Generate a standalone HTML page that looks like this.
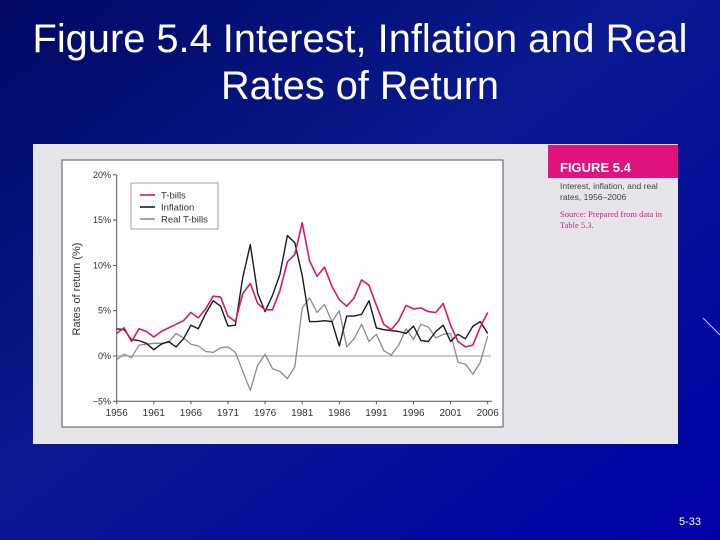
<!DOCTYPE html>
<html><head><meta charset="utf-8"><style>
html,body{margin:0;padding:0;width:720px;height:540px;overflow:hidden;}
svg{display:block;font-family:"Liberation Sans",sans-serif;}
</style></head><body>
<svg id="s" width="720" height="540" viewBox="0 0 720 540">
<defs>
<linearGradient id="bg" x1="0" y1="0" x2="1" y2="1">
<stop offset="0" stop-color="#000862"/><stop offset="0.45" stop-color="#0a1a90"/><stop offset="1" stop-color="#0000a8"/>
</linearGradient>
</defs>
<rect width="720" height="540" fill="url(#bg)"/>
<line x1="703" y1="318" x2="720" y2="335" stroke="#c8c8ff" stroke-width="1"/>
<text x="360" y="52" fill="#fff" font-size="40" text-anchor="middle" textLength="655" lengthAdjust="spacingAndGlyphs">Figure 5.4 Interest, Inflation and Real</text>
<text x="360" y="99" fill="#fff" font-size="40" text-anchor="middle" textLength="278" lengthAdjust="spacingAndGlyphs">Rates of Return</text>
<rect x="33" y="144" width="645" height="300" fill="#e6e6ea"/>
<rect x="548" y="145" width="130" height="33" fill="#e0127e"/>
<text x="560" y="172" fill="#fff" font-size="13" font-weight="bold">FIGURE 5.4</text>
<text x="560" y="189" fill="#444" font-size="8.5">Interest, inflation, and real</text>
<text x="560" y="200" fill="#444" font-size="8.5">rates, 1956–2006</text>
<text x="560" y="217" fill="#d02080" font-size="8.5" font-family="Liberation Serif,serif">Source: Prepared from data in</text>
<text x="560" y="228" fill="#d02080" font-size="8.5" font-family="Liberation Serif,serif">Table 5.3.</text>
<rect x="62" y="160" width="441" height="267" fill="#fff" stroke="#555" stroke-width="1"/>
<g id="chart"></g>
<text x="690" y="525" fill="#fff" font-size="11" text-anchor="middle">5-33</text>
</svg>
<script>
const years=[];for(let y=1956;y<=2006;y++)years.push(y);
const tbills=[2.5,3.1,1.6,3.0,2.7,2.1,2.7,3.1,3.5,3.9,4.8,4.2,5.2,6.6,6.5,4.4,3.8,6.9,8.0,5.8,5.1,5.1,7.2,10.4,11.2,14.7,10.5,8.8,9.8,7.7,6.2,5.5,6.4,8.4,7.8,5.6,3.5,2.9,3.9,5.6,5.2,5.3,4.9,4.8,5.8,3.4,1.6,1.0,1.2,3.2,4.8];
const inflation=[3.0,2.9,1.8,1.7,1.4,0.7,1.3,1.6,1.0,1.9,3.4,3.0,4.7,6.1,5.5,3.3,3.4,8.7,12.3,6.9,4.9,6.7,9.0,13.3,12.5,8.9,3.8,3.8,3.9,3.8,1.1,4.4,4.4,4.6,6.1,3.1,2.9,2.8,2.7,2.5,3.3,1.7,1.6,2.7,3.4,1.6,2.4,1.9,3.3,3.8,2.5];
const realTbills=[-0.4,0.2,-0.2,1.2,1.3,1.4,1.4,1.5,2.5,2.0,1.3,1.1,0.5,0.4,0.9,1.0,0.4,-1.7,-3.8,-1.0,0.2,-1.4,-1.7,-2.5,-1.2,5.3,6.4,4.8,5.7,3.8,5.0,1.0,1.9,3.5,1.6,2.4,0.6,0.1,1.2,3.0,1.8,3.5,3.2,2.0,2.4,2.5,-0.7,-0.9,-2.0,-0.7,2.2];
const yTicks=[-5,0,5,10,15,20];
const yTickLabels=["−5%","0%","5%","10%","15%","20%"];
const xTicks=[1956,1961,1966,1971,1976,1981,1986,1991,1996,2001,2006];
const NS="http://www.w3.org/2000/svg";
const g=document.getElementById('chart');
const X=y=>116.7+(y-1956)*(487.7-116.7)/50;
const Y=v=>356-v*9.06;
function mk(t,a){const e=document.createElementNS(NS,t);for(const k in a)e.setAttribute(k,a[k]);g.appendChild(e);return e;}
let e=mk('line',{x1:116.7,y1:Y(20),x2:116.7,y2:Y(-5),stroke:'#555','stroke-width':1});


e=mk('line',{x1:116.7,y1:Y(-5),x2:492,y2:Y(-5),stroke:'#555','stroke-width':1});


e=mk('line',{x1:116.7,y1:Y(0),x2:491,y2:Y(0),stroke:'#999','stroke-width':1});


yTicks.forEach((v,i)=>{
 let t=mk('line',{x1:113,y1:Y(v),x2:116.7,y2:Y(v),stroke:'#555'});
 
 
 let l=mk('text',{x:111,y:Y(v)+3,'font-size':9,fill:'#333','text-anchor':'end'});l.textContent=yTickLabels[i];
 
 
});
xTicks.forEach(yr=>{
 let t=mk('line',{x1:X(yr),y1:Y(-5),x2:X(yr),y2:Y(-5)+3,stroke:'#555'});
 
 
 let l=mk('text',{x:X(yr),y:416,'font-size':10,fill:'#333','text-anchor':'middle'});l.textContent=yr;
 
 
});
let yt=mk('text',{x:0,y:0,'font-size':11,fill:'#333','text-anchor':'middle',transform:'translate(80,289) rotate(-90)'});yt.textContent='Rates of return (%)';


function line(data,color,w,name){
 const p=mk('polyline',{points:data.map((v,i)=>X(years[i]).toFixed(1)+','+Y(v).toFixed(1)).join(' '),fill:'none',stroke:color,'stroke-width':w,'stroke-linejoin':'round'});
 
 
}
line(realTbills,'#8c8c8c',1.3,'real-tbills-line');
line(inflation,'#1a1a1a',1.4,'inflation-line');
line(tbills,'#d8176f',1.6,'tbills-line');
let lb=mk('rect',{x:131,y:183,width:87,height:46,fill:'#fff',stroke:'#888','stroke-width':0.8});


[['T-bills','#d8176f'],['Inflation','#1a1a1a'],['Real T-bills','#8c8c8c']].forEach((d,i)=>{
 const yy=195+i*12;
 let s=mk('line',{x1:140,y1:yy,x2:155,y2:yy,stroke:d[1],'stroke-width':1.6});
 
 
 let t=mk('text',{x:161,y:yy+3.5,'font-size':9.5,fill:'#333'});t.textContent=d[0];
 
 
});
</script>
</body></html>
